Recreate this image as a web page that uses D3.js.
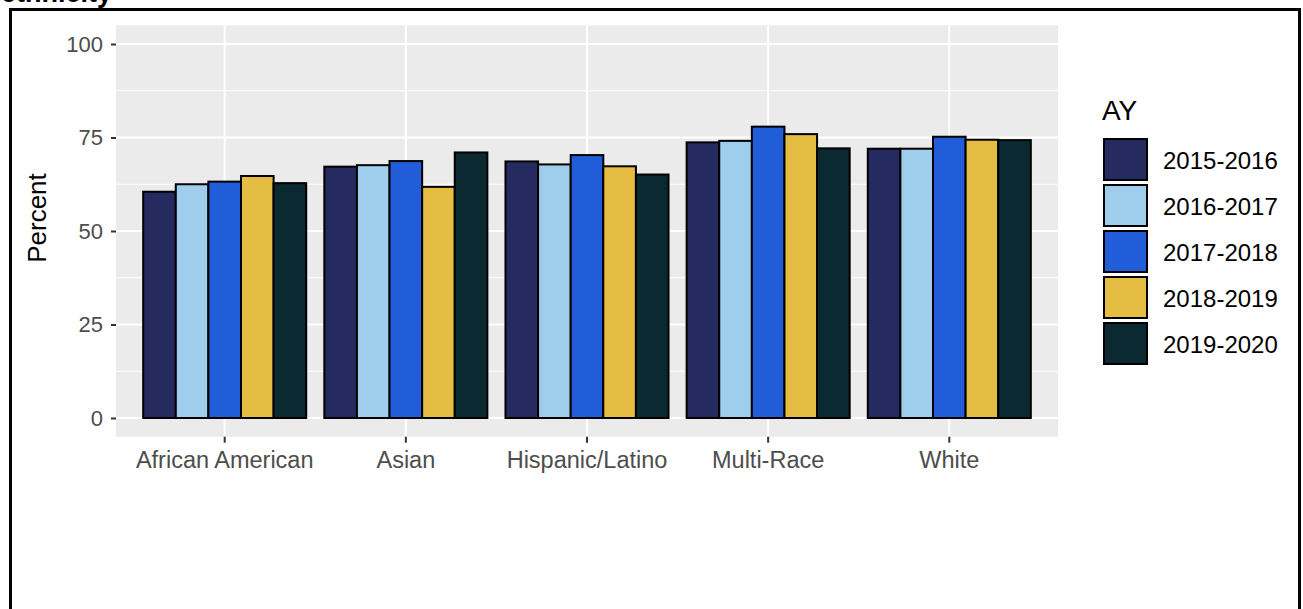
<!DOCTYPE html>
<html>
<head>
<meta charset="utf-8">
<script src="https://cdn.jsdelivr.net/npm/d3@7"></script>
<style>
  html, body { margin: 0; padding: 0; background: #fff; }
  svg { display: block; }
  text { font-family: "Liberation Sans", Arial, sans-serif; }
</style>
</head>
<body>
<svg id="chart" width="1303" height="609"></svg>
<script>
// ---- data ----
const categories = ["African American", "Asian", "Hispanic/Latino", "Multi-Race", "White"];
const years = ["2015-2016", "2016-2017", "2017-2018", "2018-2019", "2019-2020"];
const v2015_2016 = [60.5, 67.2, 68.6, 73.7, 72.0];
const v2016_2017 = [62.5, 67.6, 67.8, 74.1, 72.0];
const v2017_2018 = [63.2, 68.7, 70.3, 77.9, 75.2];
const v2018_2019 = [64.7, 61.8, 67.3, 75.9, 74.4];
const v2019_2020 = [62.8, 71.0, 65.1, 72.1, 74.3];
const yTicks = [0, 25, 50, 75, 100];
const yMinor = [12.5, 37.5, 62.5, 87.5];
const colors = ["#252A5F", "#9ECEEB", "#215DD8", "#E5BD43", "#0B2930"];

const seriesValues = [v2015_2016, v2016_2017, v2017_2018, v2018_2019, v2019_2020];
const rows = [];
categories.forEach((c, i) => years.forEach((y, j) => rows.push({cat: c, year: y, value: seriesValues[j][i]})));

// ---- layout ----
const svg = d3.select("#chart");
const panel = {left: 116, right: 1058, top: 25.3, bottom: 436.7};

const x = d3.scaleBand().domain(categories).range([panel.left, panel.right])
  .paddingInner(0.1).paddingOuter(0.15);
const xs = d3.scaleBand().domain(years).range([0, x.bandwidth()]).padding(0);
const y = d3.scaleLinear().domain([-5, 105]).range([panel.bottom, panel.top]);
const color = d3.scaleOrdinal().domain(years).range(colors);

// title (cut off at top, as in the reference)
svg.append("text").attr("x", 1).attr("y", 2)
  .attr("font-size", 27).attr("font-weight", "bold").attr("fill", "#000")
  .text("ethnicity");

// panel background
svg.append("rect").attr("x", panel.left).attr("y", panel.top)
  .attr("width", panel.right - panel.left).attr("height", panel.bottom - panel.top)
  .attr("fill", "#EBEBEB");

// minor grid
svg.append("g").selectAll("line").data(yMinor).join("line")
  .attr("x1", panel.left).attr("x2", panel.right)
  .attr("y1", d => y(d)).attr("y2", d => y(d))
  .attr("stroke", "#fff").attr("stroke-width", 1);
// major grid
svg.append("g").selectAll("line").data(yTicks).join("line")
  .attr("x1", panel.left).attr("x2", panel.right)
  .attr("y1", d => y(d)).attr("y2", d => y(d))
  .attr("stroke", "#fff").attr("stroke-width", 2);
svg.append("g").selectAll("line").data(categories).join("line")
  .attr("x1", d => x(d) + x.bandwidth() / 2).attr("x2", d => x(d) + x.bandwidth() / 2)
  .attr("y1", panel.top).attr("y2", panel.bottom)
  .attr("stroke", "#fff").attr("stroke-width", 2);

// bars
svg.append("g").selectAll("rect").data(rows).join("rect")
  .attr("x", d => x(d.cat) + xs(d.year))
  .attr("y", d => y(d.value))
  .attr("width", xs.bandwidth())
  .attr("height", d => y(0) - y(d.value))
  .attr("fill", d => color(d.year))
  .attr("stroke", "#000").attr("stroke-width", 2);

// y axis
const yAxis = d3.axisLeft(y).tickValues(yTicks).tickSize(5).tickPadding(8);
const gy = svg.append("g").attr("transform", `translate(${panel.left},0)`).call(yAxis);
gy.select(".domain").remove();
gy.selectAll(".tick line").attr("stroke", "#333").attr("stroke-width", 2);
gy.selectAll(".tick text").attr("font-size", 22).attr("fill", "#4D4D4D")
  .attr("font-family", "Liberation Sans, Arial, sans-serif");

// x axis
const xAxis = d3.axisBottom(x).tickSize(6).tickPadding(9);
const gx = svg.append("g").attr("transform", `translate(0,${panel.bottom})`).call(xAxis);
gx.select(".domain").remove();
gx.selectAll(".tick line").attr("stroke", "#333").attr("stroke-width", 2);
gx.selectAll(".tick text").attr("font-size", 23.5).attr("fill", "#4D4D4D")
  .attr("font-family", "Liberation Sans, Arial, sans-serif");

// y title
svg.append("text")
  .attr("transform", "translate(46,218) rotate(-90)")
  .attr("text-anchor", "middle").attr("font-size", 26).attr("fill", "#000")
  .text("Percent");

// legend
const lg = svg.append("g");
lg.append("text").attr("x", 1102).attr("y", 120).attr("font-size", 28).attr("fill", "#000").text("AY");
const keyStep = 46;
const items = lg.selectAll("g.item").data(years).join("g").attr("class", "item")
  .attr("transform", (d, i) => `translate(1104,${139 + i * keyStep})`);
items.append("rect").attr("width", 43).attr("height", 41)
  .attr("fill", d => color(d)).attr("stroke", "#000").attr("stroke-width", 2);
items.append("text").attr("x", 59).attr("y", 21).attr("dy", "0.36em")
  .attr("font-size", 24).attr("fill", "#000").text(d => d);

// outer frame
svg.append("rect").attr("x", 10.5).attr("y", 9.5).attr("width", 1289).attr("height", 640)
  .attr("fill", "none").attr("stroke", "#000").attr("stroke-width", 3);
</script>
</body>
</html>
